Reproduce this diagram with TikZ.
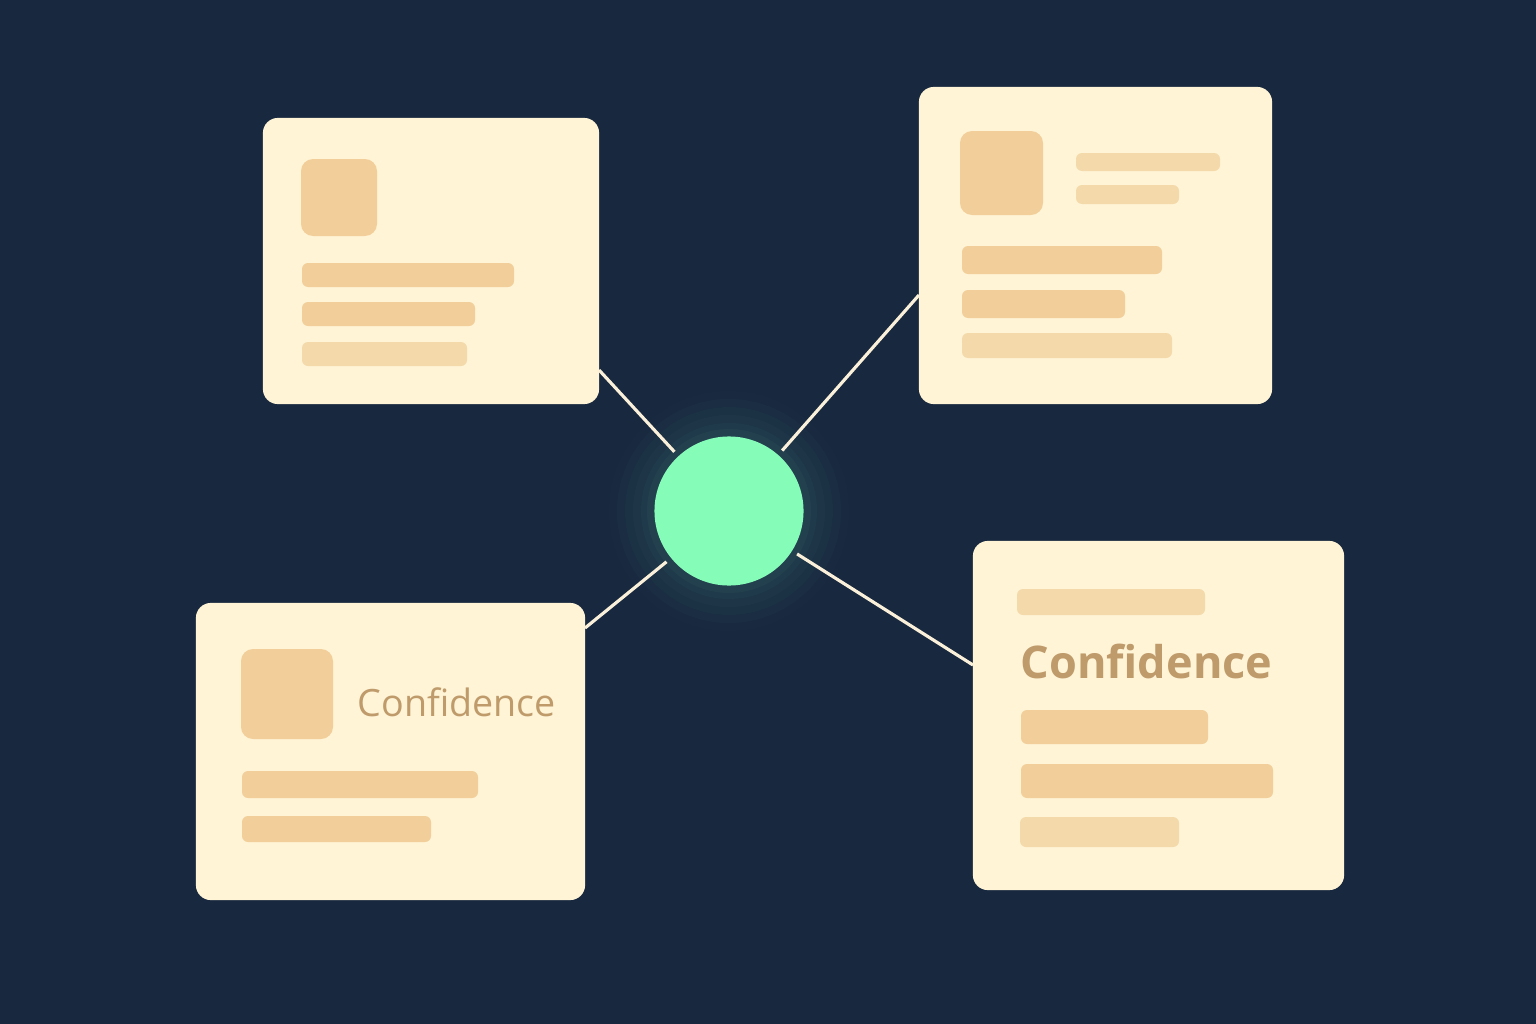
\documentclass[tikz,border=0pt]{standalone}
\usepackage{fontspec}
\setmainfont{Open Sans}
\definecolor{bg}{HTML}{18283F}
\definecolor{cardc}{HTML}{FFF4D6}
\definecolor{barc}{HTML}{F2CF9A}
\definecolor{barl}{HTML}{F4D9AA}
\definecolor{txtc}{HTML}{BF9A6B}
\definecolor{hubc}{HTML}{86FCB9}
\definecolor{glowc}{HTML}{2E5A5E}
\definecolor{linec}{HTML}{FBF1DA}
\tikzset{
  card/.style={fill=cardc, rounded corners=0.15cm, inner sep=0pt},
  bar/.style={fill=barc, rounded corners=0.06cm},
  barlight/.style={fill=barl, rounded corners=0.06cm},
  icon/.style={fill=barc, rounded corners=0.12cm},
  conn/.style={draw=linec, line width=0.9pt, shorten <=0pt, shorten >=1.5pt},
  hubnode/.style={circle, fill=hubc, minimum size=1.49cm, inner sep=0pt},
  lbl/.style={text=txtc, inner sep=0pt, anchor=west},
}
\begin{document}
\begin{tikzpicture}[x=0.01cm, y=-0.01cm]
\useasboundingbox (0,0) rectangle (1536,1024);
\fill[bg] (0,0) rectangle (1536,1024);
% glow
\foreach \r/\o in {120/0.05, 112/0.07, 104/0.09, 96/0.12, 88/0.16, 82/0.2} {
  \fill[glowc, opacity=\o] (729,511) circle (\r);
}
% cards
\node[card, minimum width=3.36cm, minimum height=2.86cm] (tl) at (431,261) {};
\node[card, minimum width=3.53cm, minimum height=3.17cm] (tr) at (1095.5,245.5) {};
\node[card, minimum width=3.89cm, minimum height=2.97cm] (bl) at (390.5,751.5) {};
\node[card, minimum width=3.71cm, minimum height=3.49cm] (br) at (1158.5,715.5) {};
% hub
\node[hubnode] (hub) at (729,511) {};
% connector endpoints on cards
\coordinate (ctl) at (599,370);
\coordinate (ctr) at (919,295);
\coordinate (cbl) at (585,628);
\coordinate (cbr) at (973,665);
\draw[conn] (ctl) -- (hub);
\draw[conn] (ctr) -- (hub);
\draw[conn] (cbl) -- (hub);
\draw[conn] (cbr) -- (hub);
% TL card content
\fill[icon] (301,159) rectangle (377,236);
\fill[bar] (302,263) rectangle (514,287);
\fill[bar] (302,302) rectangle (475,326);
\fill[barlight] (302,342) rectangle (467,366);
% TR card content
\fill[icon] (960,131) rectangle (1043,215);
\fill[barlight] (1076,153) rectangle (1220,171);
\fill[barlight] (1076,185) rectangle (1179,204);
\fill[bar] (962,246) rectangle (1162,274);
\fill[bar] (962,290) rectangle (1125,318);
\fill[barlight] (962,333) rectangle (1172,358);
% BL card content
\fill[icon] (241,649) rectangle (333,739);
\node[lbl, font=\fontsize{10.7pt}{12pt}\selectfont] (tbl) at (357,702) {Confidence};
\fill[bar] (242,771) rectangle (478,798);
\fill[bar] (242,816) rectangle (431,842);
% BR card content
\fill[barlight] (1017,589) rectangle (1205,615);
\node[lbl, font=\fontsize{12.8pt}{15pt}\selectfont\bfseries] (tbr) at (1020,661) {Confidence};
\fill[bar] (1021,710) rectangle (1208,744);
\fill[bar] (1021,764) rectangle (1273,798);
\fill[barlight] (1020,817) rectangle (1179,847);
\end{tikzpicture}
\end{document}
